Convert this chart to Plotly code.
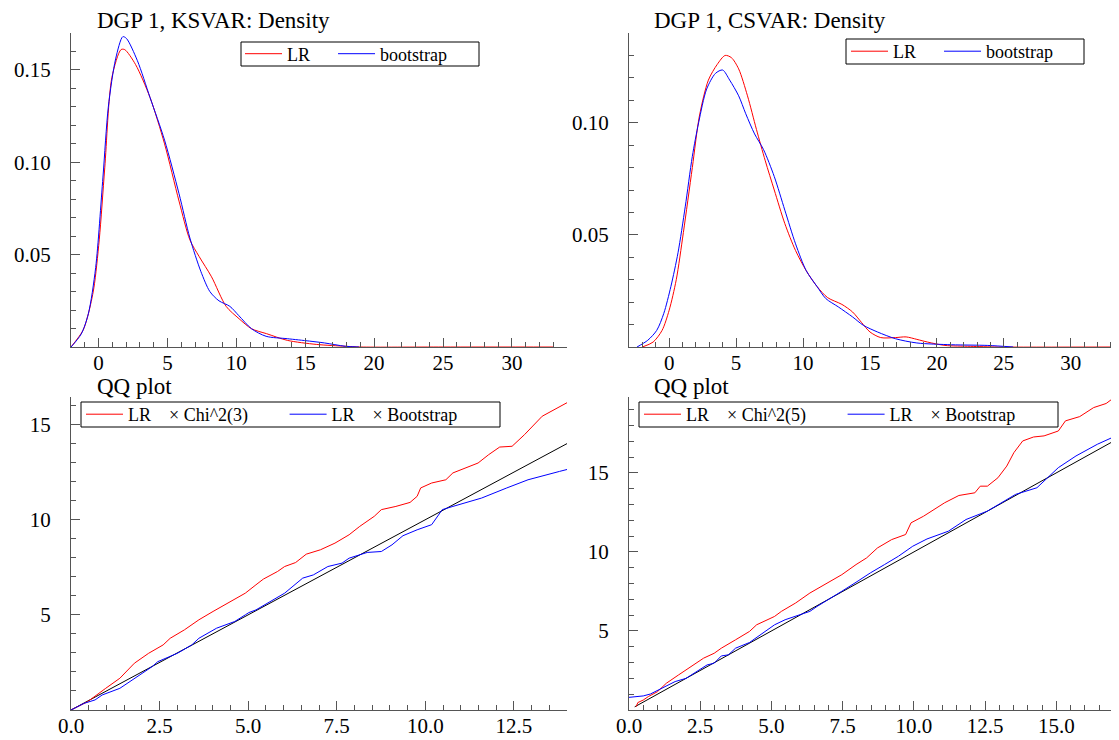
import plotly.graph_objects as go

# ---------------- data ----------------
# Top-left: DGP 1, KSVAR density
ks_lr_x = [-2.0, -1.13, -0.74, -0.34, 0.05, 0.45, 0.97, 1.63, 1.9, 2.68, 3.74, 4.79, 5.84, 6.63, 7.3, 8.2,
           9.26, 10.2, 11.1, 12.2, 13.7, 15.8, 17.9, 19.0, 25.0, 33.0]
ks_lr_y = [0.0, 0.009, 0.018, 0.032, 0.058, 0.097, 0.146, 0.161, 0.161, 0.153, 0.135, 0.110, 0.079, 0.058,
           0.049, 0.038, 0.022, 0.0153, 0.0099, 0.0072, 0.0036, 0.0014, 0.0004, 0.0, 0.0, 0.0]
ks_bs_x = [-2.0, -1.26, -0.74, -0.21, 0.32, 0.71, 1.24, 1.76, 2.03, 2.82, 3.74, 4.79, 5.84, 6.63, 7.42, 8.08,
           8.74, 9.53, 10.18, 11.1, 12.16, 13.7, 15.3, 16.4, 17.9, 18.9]
ks_bs_y = [0.0, 0.007, 0.018, 0.043, 0.092, 0.130, 0.156, 0.168, 0.167, 0.155, 0.135, 0.112, 0.083, 0.059,
           0.041, 0.030, 0.025, 0.022, 0.017, 0.0099, 0.0058, 0.0045, 0.0032, 0.0022, 0.0004, 0.0]

# Top-right: DGP 1, CSVAR density
cs_lr_x = [-2.0, -1.2, -0.53, 0.0, 0.53, 1.06, 1.73, 2.26, 2.93, 3.59, 4.18, 4.65, 5.19, 5.85, 6.52, 7.18,
           7.85, 8.64, 9.44, 10.24, 11.04, 11.84, 12.9, 13.7, 14.36, 15.0, 15.8, 16.9, 17.7, 18.5, 19.3,
           20.6, 22.5, 24.6, 33.0]
cs_lr_y = [0.0, 0.0022, 0.0074, 0.0164, 0.030, 0.051, 0.080, 0.103, 0.119, 0.126, 0.130, 0.129, 0.124,
           0.112, 0.097, 0.083, 0.070, 0.055, 0.043, 0.034, 0.027, 0.022, 0.019, 0.0156, 0.011, 0.0067,
           0.0042, 0.0042, 0.0045, 0.0034, 0.0022, 0.0007, 0.0003, 0.0, 0.0]
cs_bs_x = [-2.4, -1.6, -0.93, -0.4, 0.13, 0.66, 1.2, 1.73, 2.2, 2.8, 3.46, 3.99, 4.52, 5.19, 5.72, 6.38,
           7.05, 7.85, 8.64, 9.44, 10.24, 11.04, 11.7, 12.63, 13.7, 14.5, 15.56, 16.9, 18.5, 21.1, 23.8, 25.7]
cs_bs_y = [0.0, 0.003, 0.0074, 0.015, 0.027, 0.042, 0.0625, 0.085, 0.100, 0.115, 0.122, 0.1235, 0.119,
           0.112, 0.104, 0.095, 0.088, 0.076, 0.061, 0.046, 0.034, 0.027, 0.0216, 0.0179, 0.0134, 0.0097,
           0.0067, 0.0037, 0.0018, 0.001, 0.0007, 0.0]

# Bottom-left: QQ plot, LR x Chi^2(3) and LR x Bootstrap
qq3_ref = [0.0, 14.0]
qq3_chi_x = [0.0, 0.47, 0.98, 1.38, 1.79, 2.19, 2.6, 2.8, 3.2, 3.61, 4.01, 4.42, 4.62, 4.92, 5.22, 5.43,
             5.83, 6.03, 6.34, 6.64, 7.04, 7.45, 7.85, 8.15, 8.56, 8.76, 9.17, 9.57, 9.77, 9.87, 10.18,
             10.58, 10.78, 11.08, 11.49, 11.79, 12.1, 12.45, 12.8, 13.3, 13.79, 14.0]
qq3_chi_y = [0.0, 0.44, 1.14, 1.67, 2.46, 2.98, 3.42, 3.77, 4.21, 4.74, 5.18, 5.61, 5.82, 6.14, 6.58, 6.88,
             7.28, 7.54, 7.75, 8.19, 8.42, 8.77, 9.21, 9.65, 10.18, 10.53, 10.7, 10.91, 11.23, 11.67, 11.93,
             12.1, 12.46, 12.67, 12.98, 13.42, 13.82, 13.86, 14.47, 15.44, 15.96, 16.15]
qq3_bs_x = [0.0, 0.37, 0.68, 0.88, 1.38, 1.99, 2.29, 2.45, 3.0, 3.41, 3.61, 4.11, 4.62, 4.92, 5.02, 5.22,
            5.53, 6.03, 6.54, 6.84, 7.25, 7.65, 7.85, 8.36, 8.76, 9.06, 9.37, 9.77, 10.18, 10.48, 10.78,
            11.59, 12.3, 12.9, 13.79, 14.0]
qq3_bs_y = [0.0, 0.35, 0.53, 0.79, 1.14, 1.93, 2.28, 2.54, 2.98, 3.42, 3.77, 4.3, 4.65, 5.0, 5.12, 5.26,
            5.61, 6.14, 6.93, 7.1, 7.54, 7.72, 7.98, 8.28, 8.33, 8.68, 9.16, 9.47, 9.74, 10.53, 10.7,
            11.14, 11.67, 12.1, 12.54, 12.64]

# Bottom-right: QQ plot, LR x Chi^2(5) and LR x Bootstrap
qq5_ref = [0.2, 17.2]
qq5_chi_x = [0.25, 0.31, 0.5, 0.68, 1.0, 1.31, 1.74, 2.24, 2.62, 2.99, 3.24, 3.74, 4.23, 4.48, 5.11, 5.35,
             5.85, 6.35, 6.85, 7.47, 7.97, 8.34, 8.72, 9.22, 9.71, 9.9, 10.34, 10.83, 11.08, 11.58, 12.14,
             12.33, 12.58, 12.95, 13.26, 13.51, 13.82, 14.2, 14.57, 15.07, 15.32, 15.82, 16.31, 16.75, 17.2]
qq5_chi_y = [0.21, 0.47, 0.63, 0.85, 1.16, 1.69, 2.22, 2.85, 3.28, 3.59, 3.91, 4.44, 4.97, 5.39, 5.92, 6.24,
             6.77, 7.4, 7.93, 8.56, 9.2, 9.62, 10.25, 10.78, 11.1, 11.84, 12.26, 12.79, 13.11, 13.57, 13.74,
             14.16, 14.16, 14.69, 15.43, 16.28, 17.02, 17.27, 17.34, 17.65, 18.29, 18.56, 19.13, 19.39, 20.0]
qq5_bs_x = [0.0, 0.5, 0.75, 1.25, 1.62, 2.0, 2.37, 2.74, 2.99, 3.24, 3.49, 3.74, 4.23, 4.61, 5.11, 5.48,
            5.98, 6.35, 6.6, 6.97, 7.47, 7.97, 8.47, 8.97, 9.46, 9.96, 10.46, 11.21, 11.83, 12.58, 13.08,
            13.57, 14.32, 15.07, 15.69, 16.44, 17.2]
qq5_bs_y = [0.8, 0.89, 1.01, 1.48, 1.8, 2.0, 2.43, 2.85, 2.96, 3.42, 3.49, 3.91, 4.27, 4.76, 5.39, 5.71,
            6.03, 6.24, 6.55, 6.98, 7.51, 8.08, 8.67, 9.2, 9.73, 10.36, 10.82, 11.31, 12.05, 12.58, 13.11,
            13.64, 14.06, 15.33, 16.07, 16.81, 17.43]

titles = ["DGP 1, KSVAR: Density", "DGP 1, CSVAR: Density", "QQ plot", "QQ plot"]
SP = "\u00a0"
dens_names = ["LR" + SP * 4, "bootstrap"]
qq3_names = ["LR" + SP * 4 + "× Chi^2(3)" + SP * 7, "LR" + SP * 4 + "× Bootstrap"]
qq5_names = ["LR" + SP * 4 + "× Chi^2(5)" + SP * 7, "LR" + SP * 4 + "× Bootstrap"]

# ---------------- figure ----------------
# The page body has an 8px margin, so the figure covers page pixels 8..1119 x 8..740.
OFF = 8
PAGE_W, PAGE_H = 1119, 740
W, H = PAGE_W - OFF, PAGE_H - OFF
RED, BLUE, BLACK = "#ff0000", "#0000ff", "#000000"
FONT = "Liberation Serif"

fig = go.Figure()


def line(x, y, color, xa, ya, name=None, legend="legend", spline=False):
    fig.add_trace(go.Scatter(
        x=x, y=y, mode="lines", xaxis=xa, yaxis=ya, name=name or "",
        legend=legend, showlegend=name is not None,
        line=dict(color=color, width=1, shape="spline" if spline else "linear",
                  smoothing=0.8 if spline else None),
        hoverinfo="skip"))


line(ks_lr_x, ks_lr_y, RED, "x", "y", dens_names[0], "legend", True)
line(ks_bs_x, ks_bs_y, BLUE, "x", "y", dens_names[1], "legend", True)
line(cs_lr_x, cs_lr_y, RED, "x2", "y2", dens_names[0], "legend2", True)
line(cs_bs_x, cs_bs_y, BLUE, "x2", "y2", dens_names[1], "legend2", True)
line(qq3_ref, qq3_ref, BLACK, "x3", "y3")
line(qq3_chi_x, qq3_chi_y, RED, "x3", "y3", qq3_names[0], "legend3")
line(qq3_bs_x, qq3_bs_y, BLUE, "x3", "y3", qq3_names[1], "legend3")
line(qq5_ref, qq5_ref, BLACK, "x4", "y4")
line(qq5_chi_x, qq5_chi_y, RED, "x4", "y4", qq5_names[0], "legend4")
line(qq5_bs_x, qq5_bs_y, BLUE, "x4", "y4", qq5_names[1], "legend4")

AX = "#555555"
tickfont = dict(family=FONT, size=21, color="black")


def axis(domain, rng, tickvals, fmt, minor_dtick, anchor, standoff):
    return dict(domain=domain, range=rng, anchor=anchor, showline=True, linecolor=AX, linewidth=1,
                ticks="inside", ticklen=9, tickwidth=1, tickcolor=AX, showgrid=False, zeroline=False,
                tickmode="array", tickvals=tickvals, tickformat=fmt, tickfont=tickfont,
                ticklabelstandoff=standoff, automargin=False,
                minor=dict(ticks="inside", ticklen=5, tickwidth=1, tickcolor=AX, tickmode="linear",
                           tick0=0, dtick=minor_dtick, showgrid=False),
                fixedrange=True)


def px_x(p):
    return (p - OFF) / W


def px_y(p):
    return 1 - (p - OFF) / H


top_dom = [px_y(347), px_y(33)]
bot_dom = [px_y(710), px_y(397)]
left_dom = [px_x(71), px_x(567)]
right_dom = [px_x(629), 1.0]
XS = -3   # x tick label standoff
YS = 15   # y tick label standoff

fig.update_layout(
    width=W, height=H, autosize=False, margin=dict(l=0, r=0, t=0, b=0, autoexpand=False),
    paper_bgcolor="white", plot_bgcolor="white", font=dict(family=FONT, color="black"),
    xaxis=axis(left_dom, [-2, 34], [0, 5, 10, 15, 20, 25, 30], "d", 1, "y", XS),
    yaxis=axis(top_dom, [0, 0.17], [0.05, 0.10, 0.15], ".2f", 0.01, "x", YS),
    xaxis2=axis(right_dom, [-3, 33.6], [0, 5, 10, 15, 20, 25, 30], "d", 1, "y2", XS),
    yaxis2=axis(top_dom, [0, 0.14], [0.05, 0.10], ".2f", 0.01, "x2", YS),
    xaxis3=axis(left_dom, [0, 14], [0, 2.5, 5, 7.5, 10, 12.5], ".1f", 0.5, "y3", XS),
    yaxis3=axis(bot_dom, [0, 16.45], [5, 10, 15], "d", 1, "x3", YS),
    xaxis4=axis(right_dom, [0, 17.2], [0, 2.5, 5, 7.5, 10, 12.5, 15], ".1f", 0.5, "y4", XS),
    yaxis4=axis(bot_dom, [0, 19.8], [5, 10, 15], "d", 1, "x4", YS),
)

leg_common = dict(orientation="h", xanchor="left", yanchor="middle", bgcolor="rgba(0,0,0,0)",
                  borderwidth=0, font=dict(family=FONT, size=18, color="black"), itemwidth=37,
                  tracegroupgap=0, itemclick=False, itemdoubleclick=False)
# legend frames (x0, y0, x1, y1) in page pixels
boxes = [(241, 42, 479, 66), (846, 39, 1084, 64), (81, 402, 500, 427), (639, 402, 1058, 427)]
sample_x = [240, 846, 81, 639]
for i, ((x0, y0, x1, y1), sx) in enumerate(zip(boxes, sample_x)):
    key = "legend" if i == 0 else f"legend{i + 1}"
    fig.update_layout({key: dict(leg_common, x=px_x(sx), y=px_y((y0 + y1) / 2))})
    fig.add_shape(type="rect", xref="paper", yref="paper", x0=px_x(x0), x1=px_x(x1),
                  y0=px_y(y1), y1=px_y(y0), line=dict(color="black", width=1),
                  fillcolor="white", layer="above")

title_pos = [(95, 35), (652, 35), (95, 401), (652, 401)]
for t, (tx, ty) in zip(titles, title_pos):
    fig.add_annotation(text=t, xref="paper", yref="paper", x=px_x(tx), y=px_y(ty),
                       xanchor="left", yanchor="bottom", showarrow=False,
                       font=dict(family=FONT, size=23, color="black"))

fig.write_html("out.html")
